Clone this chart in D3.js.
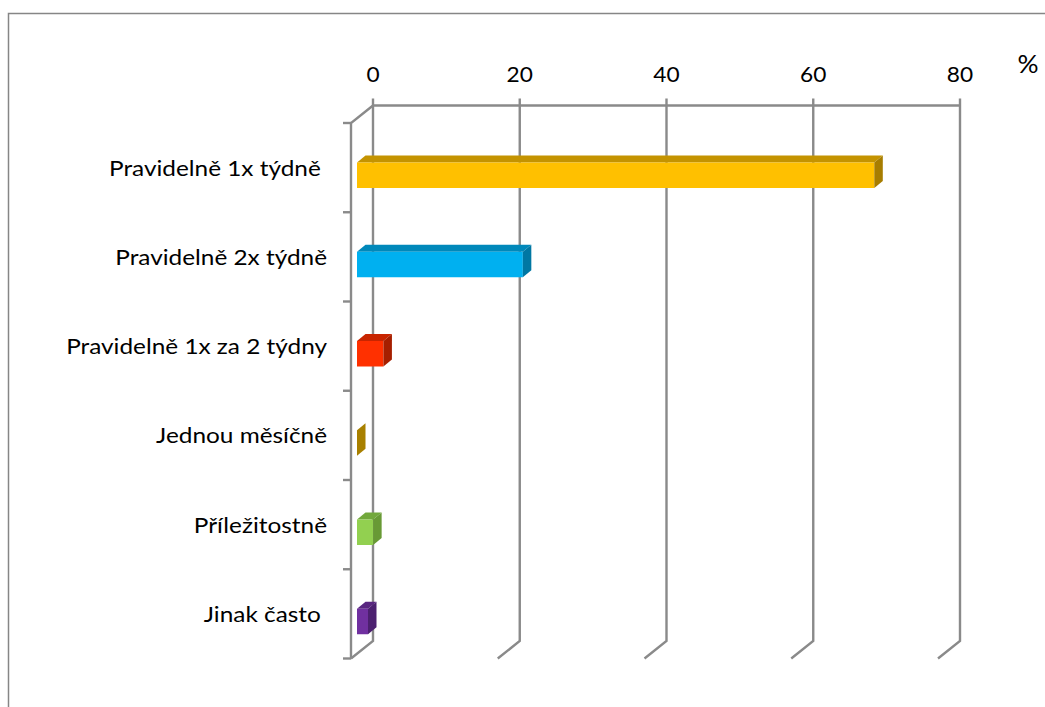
<!DOCTYPE html>
<html>
<head>
<meta charset="utf-8">
<script src="https://cdn.jsdelivr.net/npm/d3@7"></script>
<style>
  body{margin:0;background:#fff;}
  text{font-family:Lato, "Open Sans", sans-serif;fill:#000;}
</style>
</head>
<body>
<svg id="chart" width="1045" height="707"></svg>
<script>
// data
const categories = ["Pravidelně 1x týdně ", "Pravidelně 2x týdně", "Pravidelně 1x za 2 týdny",
                    "Jednou měsíčně", "Příležitostně", "Jinak často "];
const values = [70.5, 22.6, 3.6, 0, 2.2, 1.5];
const tickValues = [0, 20, 40, 60, 80];
const unitLabel = "%";

// face colours: front, top, side
const colors = [
  ["#FFC000", "#C49300", "#A77D00"],
  ["#00B0F0", "#0088BA", "#0077A3"],
  ["#FF3000", "#C82500", "#A61F00"],
  ["#C89A00", "#B08500", "#A88000"],
  ["#92D050", "#72A83C", "#689A35"],
  ["#7030A0", "#592680", "#4C2070"]
];

const svg = d3.select("#chart");
const grey = "#8a8a8a";

// back wall value scale, front plane is shifted by the 3d depth
const x = d3.scaleLinear().domain([0, 80]).range([373, 960]);
const backTop = 105.5, backBottom = 641;
const wallDx = -22, wallDy = 17.5;
const y = d3.scaleBand().domain(categories).range([backTop + wallDy, backBottom + wallDy]);

// bars sit a bit in front of the back wall
const barShift = -16, barDx = 8.5, barDy = -7, barH = 25.5, barOff = 39.5;
const xb = v => x(v) + barShift;

// outer frame
svg.append("path")
  .attr("d", "M8.5,707 V13.5 H1045")
  .attr("fill", "none").attr("stroke", "#868686").attr("stroke-width", 1.5);

const grid = svg.append("g").attr("stroke", grey).attr("stroke-width", 2.4).attr("fill", "none");

// top edge of back wall
grid.append("line")
  .attr("x1", x(0)).attr("x2", x(80)).attr("y1", backTop).attr("y2", backTop);

// vertical gridlines with the depth stroke at the bottom
grid.selectAll(".gl").data(tickValues).enter().append("path")
  .attr("class", "gl")
  .attr("d", d => `M${x(d)},${backTop - 7} V${backBottom} l${wallDx},${wallDy}`);

// left wall: front edge and top diagonal
grid.append("path")
  .attr("d", `M${x(0)},${backTop} l${wallDx},${wallDy} V${backBottom + wallDy}`);

// category ticks on the front edge
const ticksY = y.domain().map(d => y(d)).concat([y.range()[1]]);
grid.selectAll(".ct").data(ticksY).enter().append("line")
  .attr("x1", x(0) + wallDx - 8).attr("x2", x(0) + wallDx)
  .attr("y1", d => d).attr("y2", d => d);

// value axis labels on top (text a little stretched, like the original)
svg.selectAll(".vl").data(tickValues).enter().append("text")
  .attr("transform", d => `translate(${x(d)},82) scale(1.08,1)`)
  .attr("text-anchor", "middle").attr("font-size", 21)
  .text(d => d);

svg.append("text")
  .attr("transform", "translate(1028,73) scale(1.05,1)")
  .attr("text-anchor", "middle").attr("font-size", 25)
  .text(unitLabel);

// category labels
svg.selectAll(".cl").data(categories).enter().append("text")
  .attr("transform", d => `translate(327,${y(d) + y.bandwidth() / 2 + 8}) scale(1.16,1)`)
  .attr("text-anchor", "end").attr("font-size", 21)
  .style("white-space", "pre")
  .text(d => d);

// 3d bars
const bars = svg.selectAll(".bar").data(values).enter().append("g").attr("class", "bar");

bars.each(function(v, i){
  const g = d3.select(this);
  const x0 = xb(0), x1 = xb(v);
  const y0 = y(categories[i]) + barOff;
  const c = colors[i];
  if (v > 0) {
    g.append("path")
      .attr("d", `M${x0},${y0} l${barDx},${barDy} H${x1 + barDx} L${x1},${y0} Z`)
      .attr("fill", c[1]);
    g.append("rect")
      .attr("x", x0).attr("y", y0).attr("width", x1 - x0).attr("height", barH)
      .attr("fill", c[0]);
  }
  g.append("path")
    .attr("d", `M${x1},${y0} l${barDx},${barDy} v${barH} L${x1},${y0 + barH} Z`)
    .attr("fill", c[2]);
});
</script>
</body>
</html>
